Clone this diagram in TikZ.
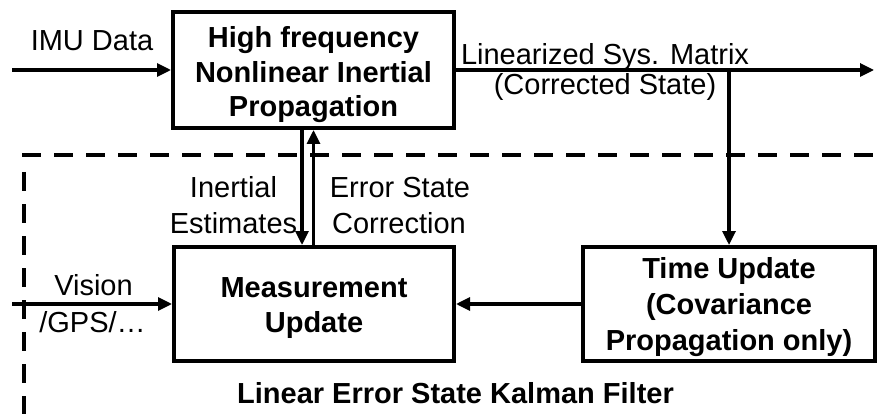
\documentclass[tikz,border=0pt]{standalone}
\usepackage{fontspec}
\setmainfont{Liberation Sans}
\usetikzlibrary{arrows.meta,calc}

\tikzset{
  block/.style={draw, line width=4pt, rectangle, inner sep=0pt},
  flow/.style={line width=3.2pt, -{Triangle[length=14pt,width=13pt]}},
  plain/.style={line width=3.2pt},
  frame/.style={line width=4pt, dash pattern=on 19pt off 13pt},
  lbl/.style={anchor=base, inner sep=0pt, font=\fontsize{29}{35}\selectfont},
  blbl/.style={lbl, font=\fontsize{29}{35}\selectfont\bfseries},
}

\begin{document}
\begin{tikzpicture}[x=1pt,y=1pt]
\useasboundingbox (0,0) rectangle (877,-414);

% dashed frame of the error-state filter
\draw[frame] (22,-155.5) -- (877,-155.5);
\draw[frame] (24,-172) -- (24,-414);

% blocks
\node[block, minimum width=281pt, minimum height=116pt] (prop) at (313.5,-70) {};
\node[block, minimum width=280pt, minimum height=114pt] (meas) at (314,-304) {};
\node[block, minimum width=292pt, minimum height=114pt] (time) at (729,-304) {};

% block texts
\node[blbl] (p1) at (313.5,-48) {High frequency};
\node[blbl] (p2) at (313.5,-83) {Nonlinear Inertial};
\node[blbl] (p3) at (313.5,-117) {Propagation};

\node[blbl] (m1) at (314,-297) {Measurement};
\node[blbl] (m2) at (314,-332) {Update};

\node[blbl] (t1) at (729,-278) {Time Update};
\node[blbl] (t2) at (729,-314) {(Covariance};
\node[blbl] (t3) at (729,-350) {Propagation only)};

% free ends of connectors
\coordinate (imuin) at (12,-70);
\coordinate (visin) at (12,-304);
\coordinate (outend) at (874,-70);
\coordinate (branch) at (729,-70);

% connectors
\draw[flow] (imuin) -- (prop.west);
\draw[flow] (prop.east) -- (outend);
\draw[flow] (branch) -- (time.north);
\draw[flow] (time.west) -- (meas.east);
\draw[flow] (visin) -- (meas.west);
\draw[flow] ([xshift=-11.5pt]prop.south) -- ([xshift=-12pt]meas.north);
\draw[flow] ([xshift=-0.5pt]meas.north) -- (prop.south);

% connector labels
\node[lbl] (imu) at (92,-51) {IMU Data};
\node[lbl] (lin1) at (605,-65) {Linearized Sys. Matrix};
\node[lbl] (lin2) at (605,-95) {(Corrected State)};
\node[lbl] (ie1) at (233.5,-197) {Inertial};
\node[lbl] (ie2) at (233.5,-233) {Estimates};
\node[lbl] (ec1) at (400,-197) {Error State};
\node[lbl] (ec2) at (399,-233) {Correction};
\node[lbl] (v1) at (93.5,-295) {Vision};
\node[lbl] (v2) at (92.5,-332) {/GPS/…};

% filter title
\node[blbl] (kf) at (455.5,-403) {Linear Error State Kalman Filter};
\end{tikzpicture}
\end{document}
